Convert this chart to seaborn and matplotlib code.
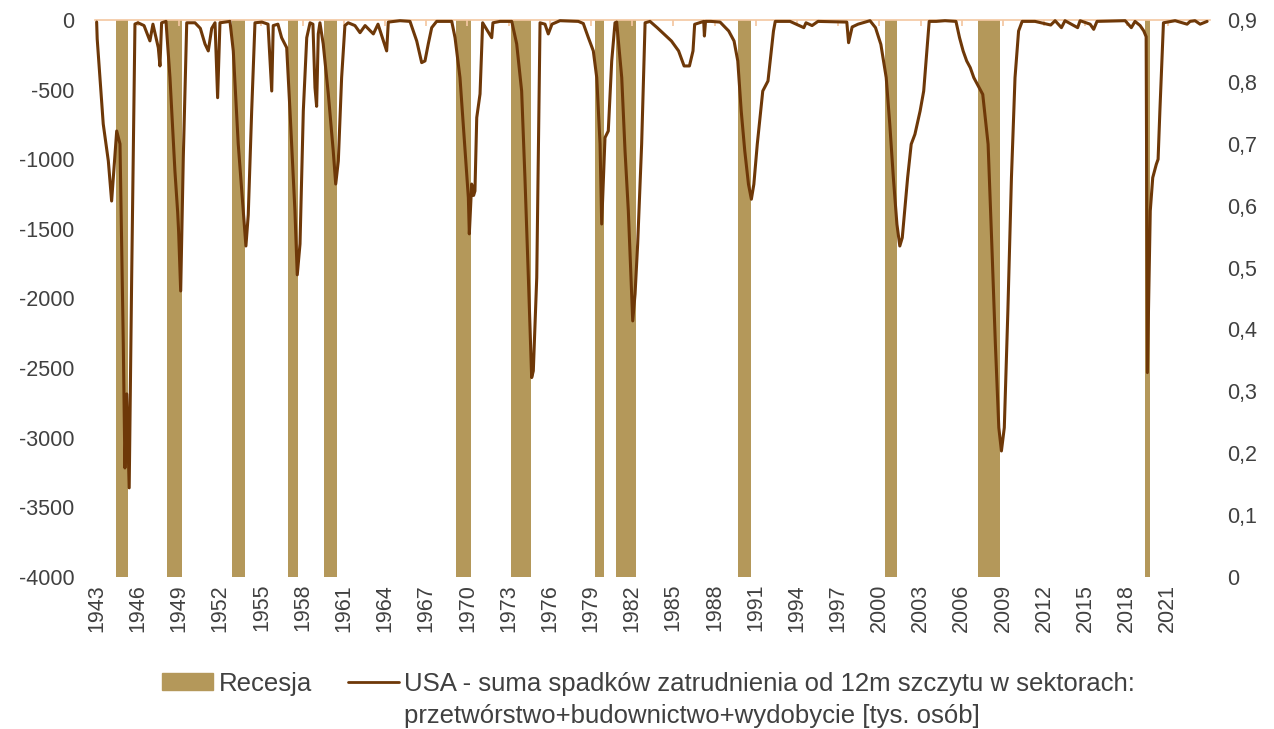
import seaborn as sns
import matplotlib.pyplot as plt
from matplotlib.patches import Patch
from matplotlib.lines import Line2D

# miesiące (ułamek roku) i suma spadków zatrudnienia od 12m szczytu [tys. osób]
okres = [
    1943.75, 1943.79, 1944.23, 1944.60, 1944.84, 1945.21, 1945.45, 1945.69, 1945.81, 1945.94,
    1946.12, 1946.30, 1946.54, 1946.76, 1947.20, 1947.63, 1947.85, 1948.24, 1948.36, 1948.48,
    1948.80, 1949.09, 1949.45, 1949.65, 1949.72, 1949.87, 1950.06, 1950.31, 1950.91, 1951.30,
    1951.64, 1951.88, 1952.13, 1952.37, 1952.56, 1952.73, 1953.46, 1953.70, 1954.06, 1954.43,
    1954.62, 1954.79, 1955.04, 1955.28, 1955.79, 1956.23, 1956.50, 1956.61, 1956.95, 1957.22,
    1957.59, 1957.83, 1958.19, 1958.36, 1958.56, 1958.80, 1959.05, 1959.29, 1959.50, 1959.65,
    1959.77, 1959.89, 1960.01, 1960.25, 1960.62, 1960.98, 1961.16, 1961.35, 1961.59, 1961.83,
    1962.07, 1962.56, 1962.93, 1963.30, 1963.90, 1964.24, 1964.87, 1964.99, 1965.84, 1966.57,
    1967.06, 1967.42, 1967.66, 1967.90, 1968.15, 1968.51, 1969.61, 1969.85, 1970.21, 1970.58,
    1970.82, 1970.89, 1971.06, 1971.20, 1971.30, 1971.43, 1971.67, 1971.86, 1972.52, 1972.61,
    1973.12, 1973.98, 1974.34, 1974.70, 1974.94, 1975.19, 1975.43, 1975.55, 1975.80, 1976.04,
    1976.40, 1976.64, 1976.91, 1977.49, 1978.83, 1979.19, 1979.56, 1979.92, 1980.17, 1980.41,
    1980.53, 1980.77, 1981.01, 1981.26, 1981.50, 1981.62, 1981.99, 1982.23, 1982.47, 1982.79,
    1982.96, 1983.15, 1983.44, 1983.69, 1984.05, 1984.57, 1985.09, 1985.61, 1986.13, 1986.53,
    1986.92, 1987.18, 1987.30, 1987.96, 1988.01, 1988.09, 1988.48, 1989.15, 1989.78, 1990.17,
    1990.44, 1990.69, 1990.95, 1991.22, 1991.43, 1991.61, 1991.86, 1992.26, 1992.64, 1993.04,
    1993.17, 1994.25, 1995.25, 1995.41, 1995.85, 1996.28, 1998.38, 1998.51, 1998.77, 1999.20,
    2000.07, 2000.47, 2000.86, 2001.25, 2001.51, 2001.77, 2002.03, 2002.24, 2002.42, 2002.81,
    2003.07, 2003.34, 2003.72, 2003.98, 2004.25, 2004.38, 2004.89, 2005.53, 2006.33, 2006.59,
    2006.85, 2007.11, 2007.37, 2007.63, 2007.89, 2008.28, 2008.67, 2008.94, 2009.20, 2009.45,
    2009.64, 2009.85, 2010.11, 2010.37, 2010.63, 2010.89, 2011.15, 2012.09, 2013.23, 2013.55,
    2014.01, 2014.27, 2015.19, 2015.37, 2016.10, 2016.36, 2016.60, 2018.65, 2019.10, 2019.37,
    2019.74, 2020.01, 2020.18, 2020.27, 2020.48, 2020.66, 2020.92, 2021.05, 2021.18, 2021.44,
    2022.29, 2023.16, 2023.38, 2023.74, 2024.11, 2024.62,
]
spadek = [
    -15, -136, -747, -1012, -1300, -797, -890, -2326, -3217, -2685,
    -3360, -1852, -29, -20, -40, -150, -30, -199, -330, -20,
    -10, -414, -1084, -1380, -1520, -1946, -989, -20, -20, -60,
    -172, -222, -60, -20, -558, -20, -10, -222, -890, -1371,
    -1623, -1400, -653, -20, -15, -30, -510, -40, -30, -127,
    -199, -653, -1371, -1830, -1608, -653, -127, -20, -30, -486,
    -620, -100, -20, -172, -531, -941, -1178, -1012, -414, -40,
    -20, -40, -91, -40, -100, -30, -222, -15, -5, -10,
    -151, -306, -294, -172, -55, -10, -10, -127, -414, -941,
    -1276, -1536, -1178, -1260, -1228, -701, -531, -20, -127, -20,
    -10, -10, -172, -510, -1132, -1850, -2568, -2520, -1850, -20,
    -30, -100, -30, -5, -10, -25, -127, -222, -414, -890,
    -1465, -845, -797, -294, -20, -15, -414, -941, -1371, -2161,
    -1967, -1608, -890, -20, -10, -55, -103, -151, -222, -330,
    -330, -222, -31, -10, -115, -10, -10, -15, -79, -151,
    -294, -653, -941, -1180, -1287, -1180, -892, -510, -438, -79,
    -10, -10, -55, -20, -40, -10, -15, -163, -50, -30,
    -5, -55, -175, -414, -749, -1132, -1467, -1623, -1563, -1132,
    -892, -821, -653, -510, -175, -10, -10, -5, -10, -127,
    -222, -294, -342, -414, -462, -534, -892, -1610, -2328, -2927,
    -3095, -2927, -2089, -1132, -414, -79, -10, -10, -36, -5,
    -55, -5, -55, -5, -30, -67, -10, -5, -55, -10,
    -40, -79, -120, -2532, -1371, -1132, -1036, -1000, -653, -20,
    -5, -30, -10, -5, -30, -10,
]

# recesje (początek / koniec)
recesja_od = [1945.16, 1948.89, 1953.58, 1957.66, 1960.28, 1969.92, 1973.90,
              1980.06, 1981.57, 1990.48, 2001.15, 2007.96, 2020.08]
recesja_do = [1946.01, 1949.98, 1954.57, 1958.39, 1961.25, 1971.00, 1975.36,
              1980.70, 1983.03, 1991.39, 2002.00, 2009.55, 2020.44]

lata_etykiety = list(range(1943, 2022, 3))
lewa_os = list(range(0, -4001, -500))
prawa_os = [i / 10 for i in range(10)]

kolor_rec = '#B4985A'
kolor_linii = '#6E3808'
kolor_osi = '#F4C7A1'
kolor_tekstu = '#404040'

sns.set_theme(style='white')
plt.rcParams['font.family'] = ['Liberation Sans', 'DejaVu Sans']

fig = plt.figure(figsize=(12.74, 7.29), dpi=100)
ax = fig.add_axes([95 / 1274, 1 - 577 / 729, (1210 - 95) / 1274, (577 - 20) / 729])
ax2 = ax.twinx()

# recesje na osi pomocniczej (słupki wyższe niż oś -> pełna wysokość)
szer = [b - a for a, b in zip(recesja_od, recesja_do)]
ax2.bar(recesja_od, [1] * len(recesja_od), width=szer, align='edge',
        color=kolor_rec, linewidth=0)
ax2.set_ylim(0, 0.9)
ax2.set_yticks(prawa_os)
ax2.set_yticklabels([f'{v:.1f}'.replace('.', ',') if v > 0 else '0' for v in prawa_os])

# linia nad słupkami
ax.set_zorder(ax2.get_zorder() + 1)
ax.patch.set_visible(False)
sns.lineplot(x=okres, y=spadek, ax=ax, color=kolor_linii, linewidth=2.2,
             clip_on=False, zorder=5)
ax.set_ylim(-4000, 0)
ax.set_yticks(lewa_os)
ax.set_yticklabels([str(v) for v in lewa_os])
ax.set_xlim(1943.63, 2024.83)
ax.set_xticks([y + 0.75 for y in lata_etykiety])
ax.set_xticklabels([str(y) for y in lata_etykiety], rotation=90)

for a in (ax, ax2):
    for s in a.spines.values():
        s.set_visible(False)
ax.spines['top'].set_visible(True)
ax.spines['top'].set_color(kolor_osi)
ax.spines['top'].set_linewidth(1.2)

ax.tick_params(axis='x', bottom=False, top=True, direction='in', length=4,
               color=kolor_osi, labelbottom=True, labeltop=False,
               labelsize=15.5, labelcolor=kolor_tekstu, pad=5)
ax.tick_params(axis='y', length=0, labelsize=15.5, labelcolor=kolor_tekstu, pad=15)
ax2.tick_params(axis='y', length=0, labelsize=15.5, labelcolor=kolor_tekstu, pad=12)
ax.set_xlabel('')
ax.set_ylabel('')

# legenda: pierwsza linia w legendzie, druga linia opisu pod nią
uchwyty = [Patch(color=kolor_rec), Line2D([], [], color=kolor_linii, linewidth=2)]
etykiety = ['Recesja',
            'USA - suma spadków zatrudnienia od 12m szczytu w sektorach:']
leg = fig.legend(uchwyty, etykiety, loc='center', bbox_to_anchor=(0.509, 0.062),
                 ncol=2, frameon=False, fontsize=18.5, handlelength=2.0,
                 handleheight=0.62, handletextpad=0.2, columnspacing=1.4)
for t in leg.get_texts():
    t.set_color(kolor_tekstu)

fig.canvas.draw()
bb = leg.get_texts()[1].get_window_extent()
fig.text(bb.x0 / fig.bbox.width, 6 / 729,
         'przetwórstwo+budownictwo+wydobycie [tys. osób]',
         fontsize=18.5, color=kolor_tekstu, ha='left', va='baseline')

fig.savefig('out.png', dpi=100)
